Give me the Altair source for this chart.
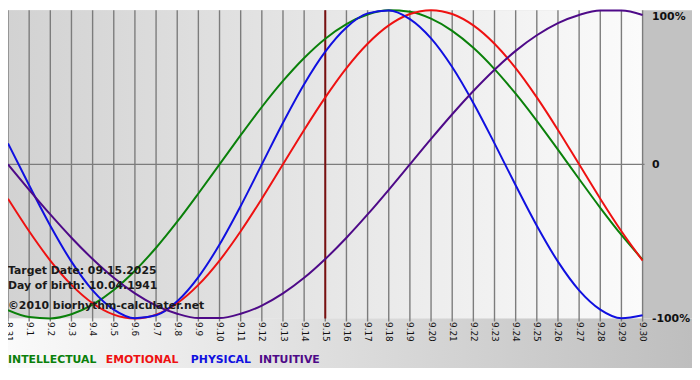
import altair as alt
import pandas as pd

dates = ['8.31', '9.1', '9.2', '9.3', '9.4', '9.5', '9.6', '9.7', '9.8', '9.9', '9.10',
         '9.11', '9.12', '9.13', '9.14', '9.15', '9.16', '9.17', '9.18', '9.19', '9.20',
         '9.21', '9.22', '9.23', '9.24', '9.25', '9.26', '9.27', '9.28', '9.29', '9.30']

physical = [0.136, -0.136, -0.398, -0.631, -0.817, -0.942, -0.998, -0.979, -0.888, -0.731,
            -0.520, -0.270, 0.0, 0.270, 0.520, 0.731, 0.888, 0.979, 0.998, 0.942,
            0.817, 0.631, 0.398, 0.136, -0.136, -0.398, -0.631, -0.817, -0.942, -0.998, -0.979]
emotional = [-0.223, -0.434, -0.624, -0.782, -0.901, -0.975, -1.0, -0.975, -0.901, -0.782,
             -0.624, -0.434, -0.223, 0.0, 0.223, 0.434, 0.624, 0.782, 0.901, 0.975,
             1.0, 0.975, 0.901, 0.782, 0.624, 0.434, 0.223, 0.0, -0.223, -0.434, -0.624]
intellectual = [-0.945, -0.990, -0.999, -0.972, -0.910, -0.815, -0.690, -0.541, -0.372, -0.189,
                0.0, 0.189, 0.372, 0.541, 0.690, 0.815, 0.910, 0.972, 0.999, 0.990,
                0.945, 0.866, 0.756, 0.618, 0.458, 0.282, 0.095, -0.095, -0.282, -0.458, -0.618]
intuitive = [0.0, -0.165, -0.325, -0.476, -0.614, -0.736, -0.837, -0.916, -0.969, -0.997,
             -0.997, -0.969, -0.916, -0.837, -0.736, -0.614, -0.476, -0.325, -0.165, 0.0,
             0.165, 0.325, 0.476, 0.614, 0.736, 0.837, 0.916, 0.969, 0.997, 0.997, 0.969]

series_names = ['INTELLECTUAL', 'EMOTIONAL', 'PHYSICAL', 'INTUITIVE']
series_colors = ['#0a800a', '#ee1111', '#1010e0', '#4e0a88']
target_date = '9.15'

rows = []
for name, vals in zip(series_names, [intellectual, emotional, physical, intuitive]):
    for d, v in zip(dates, vals):
        rows.append({'date': d, 'value': v, 'series': name})
df = pd.DataFrame(rows)

W, H = 642, 312
xscale = alt.Scale(domain=dates, type='point', padding=0)
yscale = alt.Scale(domain=[-1, 1])
xaxis = alt.Axis(title=None, labelAngle=90, labelFont='DejaVu Sans', labelFontSize=9,
                 labelColor='#111111', labelPadding=3, ticks=False, domain=False,
                 grid=False, labelOverlap=False, zindex=2, labelAlign='left', labelBaseline='middle')
one = alt.Data(values=[{}])

plot_bg = alt.Chart(one).mark_rect(
    fill=alt.Gradient(gradient='linear',
                      stops=[alt.GradientStop(color='#d2d2d2', offset=0),
                             alt.GradientStop(color='#fbfbfb', offset=1)],
                      x1=0, x2=1, y1=0, y2=0)
).encode(x=alt.value(0), x2=alt.value(W), y=alt.value(0), y2=alt.value(H))

right_bg = alt.Chart(one).mark_rect(fill='#c2c2c2').encode(
    x=alt.value(W), x2=alt.value(W + 50), y=alt.value(0), y2=alt.value(H))

bottom_bg = alt.Chart(one).mark_rect(
    fill=alt.Gradient(gradient='linear',
                      stops=[alt.GradientStop(color='#fafafa', offset=0),
                             alt.GradientStop(color='#bebebe', offset=1)],
                      x1=0, x2=1, y1=0, y2=0)
).encode(x=alt.value(0), x2=alt.value(W + 50), y=alt.value(H), y2=alt.value(H + 50))

grid = alt.Chart(pd.DataFrame({'date': dates})).mark_rule(color='#7c7c7c', strokeWidth=1.4).encode(
    x=alt.X('date:O', scale=xscale, axis=xaxis),
    y=alt.value(0), y2=alt.value(H + 3))

zero = alt.Chart(one).mark_rule(color='#7c7c7c', strokeWidth=1.4).encode(
    x=alt.value(0), x2=alt.value(W + 2), y=alt.value(H / 2))

target = alt.Chart(pd.DataFrame({'date': [target_date]})).mark_rule(color='#7a1010', strokeWidth=2).encode(
    x=alt.X('date:O', scale=xscale, axis=xaxis),
    y=alt.value(0), y2=alt.value(H))

lines = alt.Chart(df).mark_line(strokeWidth=2, interpolate='monotone').encode(
    x=alt.X('date:O', scale=xscale, axis=xaxis),
    y=alt.Y('value:Q', scale=yscale,
            axis=alt.Axis(orient='right', title=None, values=[-1, 0, 1], grid=False, ticks=False,
                          domain=False, labelFont='DejaVu Sans', labelFontSize=11,
                          labelFontWeight='bold', labelColor='#111111', labelPadding=9,
                          labelAlign='left', zindex=2,
                          labelBaseline={'condition': {'test': 'datum.value == 1', 'value': 'top'},
                                         'value': 'middle'},
                          labelExpr="datum.value == 1 ? '100%' : (datum.value == 0 ? '0' : '-100%')")),
    color=alt.Color('series:N', scale=alt.Scale(domain=series_names, range=series_colors), legend=None),
    detail='series:N')

def txt(s, x, y, color='#1a1a1a'):
    return alt.Chart(one).mark_text(text=s, align='left', baseline='middle', font='DejaVu Sans',
                                    fontSize=11, fontWeight='bold', color=color).encode(
        x=alt.value(x), y=alt.value(y))

info = [
    txt('Target Date: 09.15.2025', 0, 264),
    txt('Day of birth: 10.04.1941', 0, 279),
    txt('\u00a92010 biorhythm-calculater.net', 0, 299),
]
legend_x = [0, 99, 185, 254]
legend = [txt(n, x, 354, c) for n, x, c in zip(series_names, legend_x, series_colors)]

chart = alt.layer(plot_bg, right_bg, bottom_bg, grid, zero, target, lines, *info, *legend).properties(
    width=W, height=H,
    autosize=alt.AutoSizeParams(type='none'),
    padding={'left': 0, 'top': 0, 'right': 50, 'bottom': 60},
).configure_view(stroke=None).configure(background='white')

chart.save('out.html', embed_options={'renderer': 'svg', 'actions': False})
